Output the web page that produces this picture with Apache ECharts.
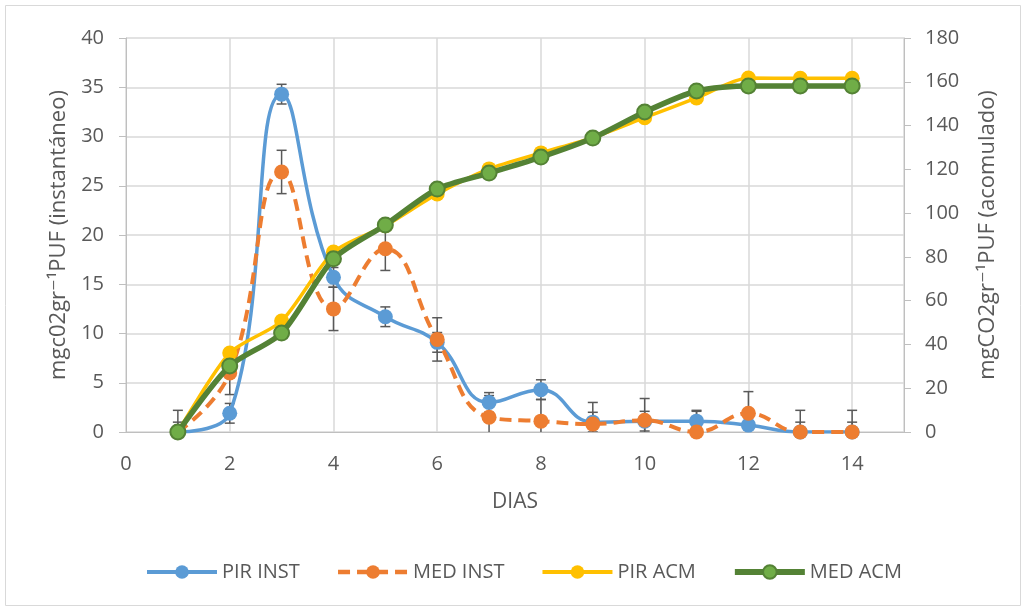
<!DOCTYPE html>
<html>
<head>
<meta charset="utf-8">
<script src="https://cdn.jsdelivr.net/npm/echarts@6/dist/echarts.min.js"></script>
<style>
html,body{margin:0;padding:0;background:#fff;}
#main{width:1022px;height:607px;}
</style>
</head>
<body>
<div id="main"></div>
<script>
const days = [1,2,3,4,5,6,7,8,9,10,11,12,13,14];
const pirInst = [0,1.9,34.3,15.7,11.7,9.1,3.0,4.3,1.0,1.1,1.1,0.7,0,0];
const medInst = [0,6.0,26.4,12.5,18.6,9.4,1.5,1.1,0.8,1.2,0,1.9,0,0];
const pirAcm = [0,36.1,50.7,82.2,94.2,108.7,120.2,127.5,134.5,143.6,152.6,161.7,161.6,161.6];
const medAcm = [0,30.2,45.2,79.1,94.6,111.0,118.3,125.6,134.3,146.2,155.8,158.1,158.1,158.1];
const pirErr = [1.0,1.0,1.0,1.0,1.0,1.0,1.0,1.0,1.0,1.0,1.0,1.0,1.0,1.0];
const medErr = [2.2,2.2,2.2,2.2,2.2,2.2,2.2,2.2,2.2,2.2,2.2,2.2,2.2,2.2];
const seriesNames = ['PIR INST','MED INST','PIR ACM','MED ACM'];
const xTitle = 'DIAS';
const yLeftTitle = 'mgc02gr\u207B\u00B9PUF (instantáneo)';
const yRightTitle = 'mgCO2gr\u207B\u00B9PUF (acomulado)';

const FONT = "'Open Sans', 'DejaVu Sans', sans-serif";
const TXT = '#595959';
const pairs = (ys) => days.map((d, i) => [d, ys[i]]);
const errData = (ys, es) => days.map((d, i) => [d, ys[i], es[i]]);

function errRender(params, api) {
  const x = api.value(0), y = api.value(1), e = api.value(2);
  const top = api.coord([x, y + e]);
  const bot = api.coord([x, y - e]);
  const hw = 5;
  const st = {stroke: '#595959', lineWidth: 1.5};
  return {
    type: 'group',
    children: [
      {type: 'line', shape: {x1: top[0], y1: top[1], x2: bot[0], y2: bot[1]}, style: st},
      {type: 'line', shape: {x1: top[0]-hw, y1: top[1], x2: top[0]+hw, y2: top[1]}, style: st},
      {type: 'line', shape: {x1: bot[0]-hw, y1: bot[1], x2: bot[0]+hw, y2: bot[1]}, style: st}
    ]
  };
}

const chart = echarts.init(document.getElementById('main'), null, {renderer: 'canvas'});
chart.setOption({
  animation: false,
  backgroundColor: '#fff',
  textStyle: {fontFamily: FONT},
  graphic: [{
    type: 'rect', left: 3, top: 3, shape: {width: 1015, height: 600},
    style: {fill: 'none', stroke: '#D9D9D9', lineWidth: 1}, silent: true
  }],
  grid: {left: 126, right: 118, top: 38, bottom: 175},
  legend: {
    top: 557, left: 140,
    itemWidth: 70, itemHeight: 17, itemGap: 36,
    textStyle: {color: TXT, fontSize: 20, fontFamily: FONT},
    data: [
      {name: seriesNames[0], lineStyle: {width: 4}},
      {name: seriesNames[1], lineStyle: {width: 4.5}},
      {name: seriesNames[2], lineStyle: {width: 4}},
      {name: seriesNames[3], lineStyle: {width: 6}}
    ]
  },
  xAxis: {
    type: 'value', min: 0, max: 15, interval: 2,
    name: xTitle, nameLocation: 'middle', nameGap: 60,
    nameTextStyle: {color: TXT, fontSize: 21, fontFamily: FONT},
    axisLine: {show: true, lineStyle: {color: '#BFBFBF', width: 1}},
    axisTick: {show: false},
    axisLabel: {color: TXT, fontSize: 20, margin: 22, showMaxLabel: false, fontFamily: FONT},
    splitLine: {show: true, lineStyle: {color: '#D9D9D9', width: 1.5}}
  },
  yAxis: [{
    type: 'value', min: 0, max: 40, interval: 5, position: 'left',
    name: yLeftTitle, nameLocation: 'middle', nameGap: 54, nameRotate: 90,
    nameTextStyle: {color: TXT, fontSize: 22, fontFamily: FONT},
    axisLine: {show: true, lineStyle: {color: '#BFBFBF', width: 1}},
    axisTick: {show: true, length: 7, lineStyle: {color: '#BFBFBF'}},
    axisLabel: {color: TXT, fontSize: 20, margin: 22, fontFamily: FONT},
    splitLine: {show: true, lineStyle: {color: '#D9D9D9', width: 1.5}}
  }, {
    type: 'value', min: 0, max: 180, interval: 20, position: 'right',
    name: yRightTitle, nameLocation: 'middle', nameGap: 73, nameRotate: 90,
    nameTextStyle: {color: TXT, fontSize: 22, fontFamily: FONT},
    axisLine: {show: true, lineStyle: {color: '#BFBFBF', width: 1}},
    axisTick: {show: true, length: 7, lineStyle: {color: '#BFBFBF'}},
    axisLabel: {color: TXT, fontSize: 20, margin: 21, fontFamily: FONT},
    splitLine: {show: false}
  }],
  series: [
    {type: 'custom', name: 'errPir', yAxisIndex: 0, clip: true, z: 1, renderItem: errRender, data: errData(pirInst, pirErr)},
    {type: 'custom', name: 'errMed', yAxisIndex: 0, clip: true, z: 1, renderItem: errRender, data: errData(medInst, medErr)},
    {
      type: 'line', name: seriesNames[0], yAxisIndex: 0, z: 2, smooth: 0.45,
      data: pairs(pirInst), symbol: 'circle', symbolSize: 15,
      lineStyle: {color: '#5B9BD5', width: 3.5}, itemStyle: {color: '#5B9BD5'}
    },
    {
      type: 'line', name: seriesNames[1], yAxisIndex: 0, z: 3, smooth: 0.45,
      data: pairs(medInst), symbol: 'circle', symbolSize: 15,
      lineStyle: {color: '#ED7D31', width: 4, type: [12, 7]}, itemStyle: {color: '#ED7D31'}
    },
    {
      type: 'line', name: seriesNames[2], yAxisIndex: 1, z: 4, smooth: 0.25,
      data: pairs(pirAcm), symbol: 'circle', symbolSize: 15,
      lineStyle: {color: '#FFC000', width: 3.5}, itemStyle: {color: '#FFC000'}
    },
    {
      type: 'line', name: seriesNames[3], yAxisIndex: 1, z: 5, smooth: 0.25,
      data: pairs(medAcm), symbol: 'circle', symbolSize: 15,
      lineStyle: {color: '#548235', width: 5.5}, itemStyle: {color: '#70AD47', borderColor: '#548235', borderWidth: 2}
    }
  ]
});
</script>
</body>
</html>
